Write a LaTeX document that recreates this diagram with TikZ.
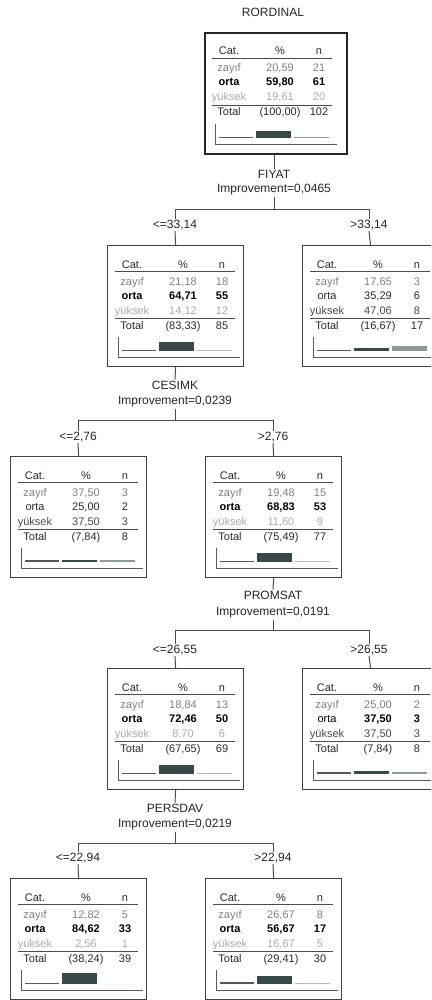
\documentclass[tikz,border=0pt]{standalone}
\usepackage{fontspec}
\setmainfont{Liberation Sans}
\definecolor{tx}{HTML}{2A2A2A}
\definecolor{zc}{HTML}{808080}
\definecolor{ylc}{HTML}{ABABAB}
\definecolor{ydc}{HTML}{4A4A4A}
\definecolor{barz}{HTML}{55595A}
\definecolor{baro}{HTML}{3A4848}
\definecolor{bary}{HTML}{8E9A98}
\definecolor{baryl}{HTML}{B4BAB8}
\tikzset{
  boxframe/.style={draw=black!75, line width=1.2pt, fill=white, inner sep=0pt},
  rootframe/.style={draw=black!85, line width=2pt, fill=white, inner sep=0pt},
  cell/.style={font=\fontsize{11}{13}\selectfont, inner sep=0pt, anchor=base},
  rowz/.style={text=zc},
  rowob/.style={text=black, font=\fontsize{11}{13}\selectfont\bfseries},
  rowon/.style={text=tx},
  rowyl/.style={text=ylc},
  rowyd/.style={text=ydc},
  rowt/.style={text=tx},
  lbl/.style={font=\fontsize{12}{14}\selectfont, text=black!85, inner sep=1pt},
  conn/.style={draw=black!70, line width=1pt},
  tablerule/.style={draw=black!70, line width=0.9pt},
  chartaxis/.style={draw=black!65, line width=0.8pt},
}
\newcommand\tframe[5]{%
  \def\bl{#2}\def\bt{#3}\def\bn{#1}%
  \node[#5, minimum width=#4, minimum height=121, anchor=north west] (#1) at (#2,#3) {};%
  \node[cell,text=tx] (#1-hc) at (#2+25,#3+23) {Cat.};%
  \node[cell,text=tx] (#1-hp) at (#2+76,#3+23) {\%};%
  \node[cell,text=tx] (#1-hn) at (#2+115,#3+23) {n};%
  \draw[tablerule] (#2+8,#3+26.5) -- (#2+128,#3+26.5);%
  \draw[tablerule] (#2+8,#3+73) -- (#2+128,#3+73);%
  \draw[chartaxis] (#2+11,#3+92) -- (#2+11,#3+112) -- (#2+133,#3+112);%
}
\newcommand\trow[6]{%
  \node[cell,#3] (\bn-#1c) at (\bl+25,\bt+#2) {#4};%
  \node[cell,#3] (\bn-#1p) at (\bl+76,\bt+#2) {#5};%
  \node[cell,#3] (\bn-#1n) at (\bl+115,\bt+#2) {#6};%
}
\newcommand\tbars[4]{%
  \fill[barz] (\bl+15,\bt+106) rectangle (\bl+49,\bt+106-#1);%
  \fill[baro] (\bl+52,\bt+106) rectangle (\bl+87,\bt+106-#2);%
  \fill[#4] (\bl+90,\bt+106) rectangle (\bl+125,\bt+106-#3);%
}
\begin{document}
\begin{tikzpicture}[x=1pt,y=-1pt]
\useasboundingbox (0,0) rectangle (431,1000);
\clip (0,0) rectangle (431,1000);
\fill[white] (0,0) rectangle (431,1000);

% root
\node[lbl] (title) at (273,12) {RORDINAL};
\tframe{root}{204}{32}{142}{rootframe}
\trow{z}{40}{rowz}{zayıf}{20,59}{21}
\trow{o}{54}{rowob}{orta}{59,80}{61}
\trow{y}{69}{rowyl}{yüksek}{19,61}{20}
\trow{t}{84}{rowt}{Total}{(100,00)}{102}
\tbars{1}{7}{1}{bary}

% FIYAT split
\node[lbl] (f1) at (274,174) {FIYAT};
\node[lbl] (f1i) at (274,190) {Improvement=0,0465};
\coordinate (s1) at (274,210);
\coordinate (s1l) at (175,210);
\coordinate (s1r) at (369,210);
\node[lbl] (l1a) at (175,225) {<=33,14};
\node[lbl] (l1b) at (369,225) {>33,14};

\tframe{b2}{107}{245}{136}{boxframe}
\trow{z}{40}{rowz}{zayıf}{21,18}{18}
\trow{o}{54}{rowob}{orta}{64,71}{55}
\trow{y}{69}{rowyl}{yüksek}{14,12}{12}
\trow{t}{84}{rowt}{Total}{(83,33)}{85}
\tbars{1}{9}{1}{baryl}

\tframe{b3}{302}{245}{136}{boxframe}
\trow{z}{40}{rowz}{zayıf}{17,65}{3}
\trow{o}{54}{rowon}{orta}{35,29}{6}
\trow{y}{69}{rowyd}{yüksek}{47,06}{8}
\trow{t}{84}{rowt}{Total}{(16,67)}{17}
\tbars{1.2}{3}{5}{bary}

% CESIMK split
\node[lbl] (c1) at (175,385) {CESIMK};
\node[lbl] (c1i) at (175,402) {Improvement=0,0239};
\coordinate (s2) at (175,420);
\coordinate (s2l) at (78,420);
\coordinate (s2r) at (273,420);
\node[lbl] (l2a) at (78,437) {<=2,76};
\node[lbl] (l2b) at (273,437) {>2,76};

\tframe{b4}{10}{456}{136}{boxframe}
\trow{z}{40}{rowz}{zayıf}{37,50}{3}
\trow{o}{54}{rowon}{orta}{25,00}{2}
\trow{y}{69}{rowyd}{yüksek}{37,50}{3}
\trow{t}{84}{rowt}{Total}{(7,84)}{8}
\tbars{2.5}{1.6}{2.5}{bary}

\tframe{b5}{205}{456}{136}{boxframe}
\trow{z}{40}{rowz}{zayıf}{19,48}{15}
\trow{o}{54}{rowob}{orta}{68,83}{53}
\trow{y}{69}{rowyl}{yüksek}{11,60}{9}
\trow{t}{84}{rowt}{Total}{(75,49)}{77}
\tbars{1}{9}{1}{baryl}

% PROMSAT split
\node[lbl] (p1) at (273,595) {PROMSAT};
\node[lbl] (p1i) at (273,613) {Improvement=0,0191};
\coordinate (s3) at (273,630);
\coordinate (s3l) at (175,630);
\coordinate (s3r) at (369,630);
\node[lbl] (l3a) at (175,650) {<=26,55};
\node[lbl] (l3b) at (369,650) {>26,55};

\tframe{b6}{107}{668}{136}{boxframe}
\trow{z}{40}{rowz}{zayıf}{18,84}{13}
\trow{o}{54}{rowob}{orta}{72,46}{50}
\trow{y}{69}{rowyl}{yüksek}{8,70}{6}
\trow{t}{84}{rowt}{Total}{(67,65)}{69}
\tbars{1}{9}{1}{baryl}

\tframe{b7}{302}{668}{136}{boxframe}
\trow{z}{40}{rowz}{zayıf}{25,00}{2}
\trow{o}{54}{rowob}{\mdseries orta}{37,50}{3}
\trow{y}{69}{rowyd}{yüksek}{37,50}{3}
\trow{t}{84}{rowt}{Total}{(7,84)}{8}
\tbars{1.6}{3}{2.5}{bary}

% PERSDAV split
\node[lbl] (q1) at (175,808) {PERSDAV};
\node[lbl] (q1i) at (175,825) {Improvement=0,0219};
\coordinate (s4) at (175,843);
\coordinate (s4l) at (78,843);
\coordinate (s4r) at (273,843);
\node[lbl] (l4a) at (78,858) {<=22,94};
\node[lbl] (l4b) at (273,858) {>22,94};

\tframe{b8}{10}{878}{136}{boxframe}
\trow{z}{40}{rowz}{zayıf}{12,82}{5}
\trow{o}{54}{rowob}{orta}{84,62}{33}
\trow{y}{69}{rowyl}{yüksek}{2,56}{1}
\trow{t}{84}{rowt}{Total}{(38,24)}{39}
\tbars{1}{11}{0}{baryl}

\tframe{b9}{205}{878}{136}{boxframe}
\trow{z}{40}{rowz}{zayıf}{26,67}{8}
\trow{o}{54}{rowob}{orta}{56,67}{17}
\trow{y}{69}{rowyl}{yüksek}{16,67}{5}
\trow{t}{84}{rowt}{Total}{(29,41)}{30}
\tbars{1.6}{8}{1}{baryl}

% connectors
\draw[conn] (root.south -| f1) -- (f1.north);
\draw[conn] (f1i.south) -- (s1);
\draw[conn] (s1l) -- (l1a.north);
\draw[conn] (s1l) -- (s1r) -- (l1b.north);
\draw[conn] (l1a.south) -- (b2.north);
\draw[conn] (l1b.south) -- (b3.north);

\draw[conn] (b2.south) -- (c1.north);
\draw[conn] (c1i.south) -- (s2);
\draw[conn] (s2l) -- (l2a.north);
\draw[conn] (s2l) -- (s2r) -- (l2b.north);
\draw[conn] (l2a.south) -- (b4.north);
\draw[conn] (l2b.south) -- (b5.north);

\draw[conn] (b5.south) -- (p1.north);
\draw[conn] (p1i.south) -- (s3);
\draw[conn] (s3l) -- (l3a.north);
\draw[conn] (s3l) -- (s3r) -- (l3b.north);
\draw[conn] (l3a.south) -- (b6.north);
\draw[conn] (l3b.south) -- (b7.north);

\draw[conn] (b6.south) -- (q1.north);
\draw[conn] (q1i.south) -- (s4);
\draw[conn] (s4l) -- (l4a.north);
\draw[conn] (s4l) -- (s4r) -- (l4b.north);
\draw[conn] (l4a.south) -- (b8.north);
\draw[conn] (l4b.south) -- (b9.north);
\end{tikzpicture}
\end{document}
